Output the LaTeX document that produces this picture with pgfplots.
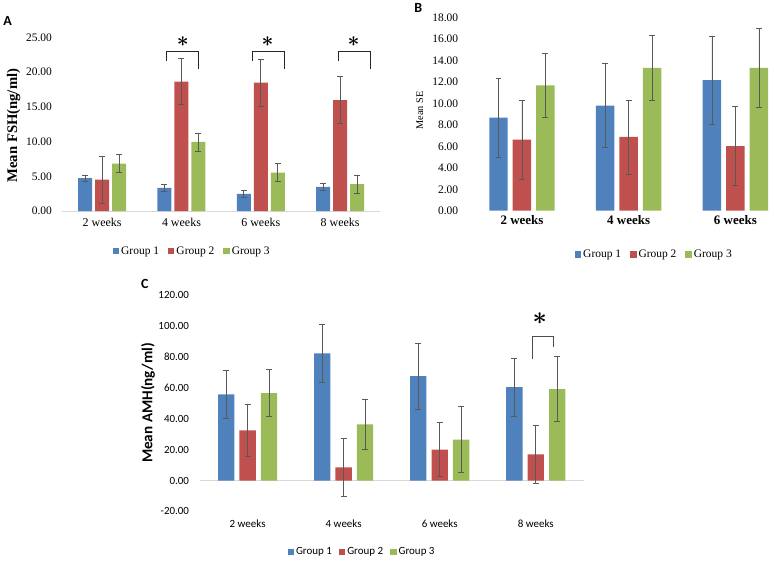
\documentclass[border=0pt]{standalone}
\usepackage{pgfplots}
\pgfplotsset{compat=1.18}
\usepackage{pgfplotstable}
\usepackage{graphicx}
\usepackage{fontspec}
\setmainfont{Liberation Serif}
\newfontfamily\calfont{Carlito}
\definecolor{g1}{HTML}{4F81BD}
\definecolor{g2}{HTML}{C0504D}
\definecolor{g3}{HTML}{9BBB59}
\definecolor{errc}{HTML}{595959}
\definecolor{axc}{HTML}{D9D9D9}

% Panel A: FSH
\pgfplotstableread{
x y e
0 4.75 0.45
1 3.35 0.45
2 2.50 0.45
3 3.50 0.45
}\AgA
\pgfplotstableread{
x y e
0 4.55 3.40
1 18.63 3.30
2 18.50 3.40
3 16.00 3.35
}\AgB
\pgfplotstableread{
x y e
0 6.85 1.30
1 9.97 1.30
2 5.56 1.30
3 3.88 1.30
}\AgC
% Panel B: SE
\pgfplotstableread{
x y e
0 8.67 3.70
1 9.79 3.90
2 12.18 4.10
}\BgA
\pgfplotstableread{
x y e
0 6.63 3.70
1 6.88 3.45
2 6.01 3.67
}\BgB
\pgfplotstableread{
x y e
0 11.68 2.95
1 13.32 3.00
2 13.32 3.65
}\BgC
% Panel C: AMH
\pgfplotstableread{
x y e
0 55.8 15.8
1 82.3 18.8
2 67.6 21.2
3 60.5 18.7
}\CgA
\pgfplotstableread{
x y e
0 32.5 17.1
1 8.6 19.0
2 20.0 17.4
3 17.0 18.8
}\CgB
\pgfplotstableread{
x y e
0 56.7 15.0
1 36.4 16.2
2 26.5 21.3
3 59.2 21.1
}\CgC

\newcommand{\sigstar}{{\boldmath$\ast$}}

\pgfplotsset{
  panel/.style={scale only axis, clip=false,
    axis line style={draw=none}, tick style={draw=none},
    yticklabel style={anchor=east, xshift=-7pt},
    legend columns=3,
    legend style={draw=none, fill=none, anchor=center,
      /tikz/every even column/.append style={column sep=7pt}},
    legend image code/.code={\fill[##1] (0pt,-3.2pt) rectangle (6.4pt,3.2pt);},
  },
  errb/.style={error bars/.cd, y dir=both, y explicit,
    error bar style={draw=errc, line width=0.7pt},
    error mark options={draw=errc, rotate=90, mark size=3pt, line width=0.7pt}},
}

\begin{document}
\begin{tikzpicture}
\path (0pt,0pt) rectangle (774pt,-558pt);

% ---------------- Panel A ----------------
\node[font=\calfont\bfseries\fontsize{14}{14}\selectfont] at (6pt,-20pt) {A};
\begin{axis}[panel,
  at={(61pt,-210.7pt)}, anchor=south west,
  width=318pt, height=174pt,
  xmin=-0.5, xmax=3.5, ymin=0, ymax=25,
  xtick={0,1,2,3}, xticklabels={2 weeks,4 weeks,6 weeks,8 weeks},
  ytick={0,5,10,15,20,25},
  yticklabels={0.00,5.00,10.00,15.00,20.00,25.00},
  xticklabel style={font=\rmfamily\fontsize{12}{14}\selectfont, yshift=-4pt},
  yticklabel style={font=\rmfamily\fontsize{11.5}{13}\selectfont},
  legend style={at={(axis description cs:0.409,-0.23)}, font=\rmfamily\fontsize{11.5}{13}\selectfont},
]
\draw[axc, line width=0.8pt] (axis cs:-0.5,0) -- (axis cs:3.5,0);
\addplot[ybar, bar width=0.176, bar shift=0, fill=g1, draw=none, errb] table[x expr=\thisrow{x}-0.214,y=y,y error=e]{\AgA};
\addplot[ybar, bar width=0.176, bar shift=0, fill=g2, draw=none, errb] table[x=x,y=y,y error=e]{\AgB};
\addplot[ybar, bar width=0.176, bar shift=0, fill=g3, draw=none, errb] table[x expr=\thisrow{x}+0.214,y=y,y error=e]{\AgC};
\legend{Group 1,Group 2,Group 3}
% significance brackets
\draw[black!85, line width=0.9pt] (axis cs:0.817,21.65) -- (axis cs:0.817,23.05) -- (axis cs:1.214,23.05) -- (axis cs:1.214,20.46);
\draw[black!85, line width=0.9pt] (axis cs:1.899,21.65) -- (axis cs:1.899,23.05) -- (axis cs:2.296,23.05) -- (axis cs:2.296,20.46);
\draw[black!85, line width=0.9pt] (axis cs:2.980,21.65) -- (axis cs:2.980,23.05) -- (axis cs:3.378,23.05) -- (axis cs:3.378,20.46);
\node[font=\fontsize{21}{21}\selectfont] at (axis cs:1.018,24.35) {\sigstar};
\node[font=\fontsize{21}{21}\selectfont] at (axis cs:2.087,24.35) {\sigstar};
\node[font=\fontsize{21}{21}\selectfont] at (axis cs:3.169,24.35) {\sigstar};
\end{axis}
\node[rotate=90, anchor=center, inner sep=0pt] at (12pt,-125pt) {\resizebox{114pt}{!}{\rmfamily\bfseries Mean FSH(ng/ml)}};

% ---------------- Panel B ----------------
\node[font=\calfont\bfseries\fontsize{14}{14}\selectfont] at (417.5pt,-7pt) {B};
\begin{axis}[panel,
  at={(468pt,-210.3pt)}, anchor=south west,
  width=306pt, height=193.6pt,
  xmin=-0.5, xmax=2.362, ymin=0, ymax=18,
  xtick={0,1,2}, xticklabels={2 weeks,4 weeks,6 weeks},
  ytick={0,2,4,6,8,10,12,14,16,18},
  yticklabels={0.00,2.00,4.00,6.00,8.00,10.00,12.00,14.00,16.00,18.00},
  xticklabel style={font=\rmfamily\bfseries\fontsize{13}{15}\selectfont, yshift=-1pt},
  yticklabel style={font=\rmfamily\fontsize{11.5}{13}\selectfont},
  legend style={at={(axis description cs:0.608,-0.226)}, font=\rmfamily\fontsize{11.5}{13}\selectfont},
]
\addplot[ybar, bar width=0.173, bar shift=0, fill=g1, draw=none, errb] table[x expr=\thisrow{x}-0.22,y=y,y error=e]{\BgA};
\addplot[ybar, bar width=0.173, bar shift=0, fill=g2, draw=none, errb] table[x=x,y=y,y error=e]{\BgB};
\addplot[ybar, bar width=0.173, bar shift=0, fill=g3, draw=none, errb] table[x expr=\thisrow{x}+0.22,y=y,y error=e]{\BgC};
\legend{Group 1,Group 2,Group 3}
\end{axis}
\node[rotate=90, anchor=center, inner sep=0pt] at (419pt,-110pt) {\resizebox{38pt}{!}{\rmfamily Mean SE}};

% ---------------- Panel C ----------------
\node[font=\calfont\bfseries\fontsize{14}{14}\selectfont] at (143.5pt,-284pt) {C};
\begin{axis}[panel,
  at={(198.4pt,-511.6pt)}, anchor=south west,
  width=385pt, height=216.6pt,
  xmin=-0.5, xmax=3.5, ymin=-20, ymax=120,
  xtick={0,1,2,3}, xticklabels={2 weeks,4 weeks,6 weeks,8 weeks},
  ytick={-20,0,20,40,60,80,100,120},
  yticklabels={-20.00,0.00,20.00,40.00,60.00,80.00,100.00,120.00},
  xticklabel style={font=\calfont\fontsize{11}{13}\selectfont, yshift=-5pt},
  yticklabel style={font=\calfont\fontsize{11}{13}\selectfont},
  legend style={at={(axis description cs:0.423,-0.188)}, font=\calfont\fontsize{11}{13}\selectfont,
    /tikz/every even column/.append style={column sep=5pt}},
]
\draw[axc, line width=0.8pt] (axis cs:-0.5,0) -- (axis cs:3.5,0);
\addplot[ybar, bar width=0.17, bar shift=0, fill=g1, draw=none, errb] table[x expr=\thisrow{x}-0.223,y=y,y error=e]{\CgA};
\addplot[ybar, bar width=0.17, bar shift=0, fill=g2, draw=none, errb] table[x=x,y=y,y error=e]{\CgB};
\addplot[ybar, bar width=0.17, bar shift=0, fill=g3, draw=none, errb] table[x expr=\thisrow{x}+0.223,y=y,y error=e]{\CgC};
\legend{Group 1,Group 2,Group 3}
\draw[black!70, line width=0.8pt] (axis cs:2.966,78.7) -- (axis cs:2.966,93.5) -- (axis cs:3.187,93.5) -- (axis cs:3.187,86.2);
\node[font=\fontsize{23}{23}\selectfont] at (axis cs:3.042,105) {\sigstar};
\end{axis}
\node[rotate=90, anchor=center, inner sep=0pt] at (146.7pt,-403pt) {\resizebox{120pt}{!}{\calfont\bfseries Mean AMH(ng/ml)}};
\end{tikzpicture}
\end{document}
